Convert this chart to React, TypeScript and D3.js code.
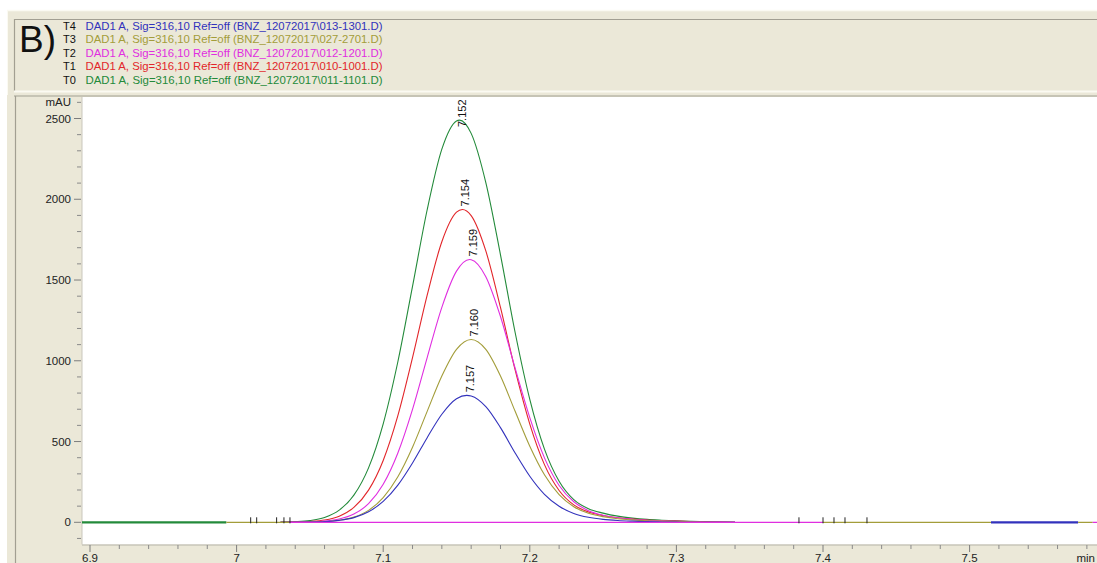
import React from 'react';
import * as d3 from 'd3';

// Shared retention-time grid (min) for the sampled signal values
const times = [
  7.03, 7.04, 7.05, 7.06, 7.07, 7.08, 7.09, 7.1, 7.11, 7.12, 7.13, 7.14, 7.15, 7.16, 7.17, 7.18,
  7.19, 7.2, 7.21, 7.22, 7.23, 7.24, 7.25, 7.26, 7.27, 7.28, 7.29, 7.3, 7.31, 7.32, 7.33, 7.34,
];

// Detector response (mAU) for each injection on the grid above
const signalT4 = [0, 0, 1, 4, 12, 29, 65, 129, 230, 367, 524, 669, 765, 782, 716, 586, 429, 285, 173, 99, 55, 31, 18, 11, 7, 4, 2, 1, 0, 0, 0, 0];
const signalT3 = [0, 0, 1, 4, 13, 32, 74, 153, 282, 465, 687, 906, 1071, 1132, 1071, 906, 687, 471, 294, 171, 96, 56, 35, 22, 15, 10, 7, 5, 3, 1, 0, 0];
const signalT2 = [0, 1, 2, 7, 20, 51, 115, 235, 429, 699, 1020, 1331, 1555, 1626, 1521, 1274, 954, 648, 399, 228, 127, 72, 44, 28, 19, 13, 9, 6, 4, 2, 1, 0];
const signalT1 = [0, 1, 5, 14, 38, 92, 199, 383, 660, 1019, 1406, 1737, 1920, 1899, 1680, 1330, 943, 608, 357, 197, 108, 64, 42, 28, 20, 14, 10, 7, 4, 2, 1, 0];
const signalT0 = [1, 4, 11, 30, 75, 168, 337, 610, 994, 1461, 1935, 2310, 2485, 2408, 2103, 1656, 1175, 761, 453, 254, 140, 84, 57, 38, 26, 18, 13, 9, 6, 4, 2, 0];

// Trace metadata, listed top to bottom as in the header
const traceIds = ['T4', 'T3', 'T2', 'T1', 'T0'];
const traceFiles = ['013-1301', '027-2701', '012-1201', '010-1001', '011-1101'];
const traceColors = ['#3232bc', '#a39d3a', '#e02ee0', '#e2262a', '#238a3a'];
const traceSignals = [signalT4, signalT3, signalT2, signalT1, signalT0];

// Peak apex retention times (min) and heights (mAU)
const apexTimes = [7.157, 7.16, 7.159, 7.154, 7.152];
const apexHeights = [786, 1132, 1627, 1937, 2490];

// Axis ticks
const yMajorTicks = [0, 500, 1000, 1500, 2000, 2500];
const xMajorTicks = [6.9, 7.0, 7.1, 7.2, 7.3, 7.4, 7.5];

// Zero-level baseline pieces (min) and the trace that shows on top there
const baselineFrom = [6.893, 6.993, 7.036, 7.4, 7.5146, 7.574, 7.584];
const baselineTo = [6.993, 7.036, 7.4, 7.5146, 7.574, 7.584, 7.62];
const baselineTrace = [4, 1, 2, 1, 0, 1, 2];
const baselineWidth = [2.2, 1.2, 1.2, 1.2, 2.2, 1.2, 1.2];

// Integration event marks (min)
const eventTimes = [7.0096, 7.0137, 7.0273, 7.0323, 7.0364, 7.3836, 7.4, 7.4075, 7.415, 7.43];

const W = 1097;
const H = 563;
const plotLeft = 82;
const plotTop = 97;
const plotBottom = 544.5;

const fontFamily = "'Liberation Sans', Arial, sans-serif";

export default function App() {
  const x = d3.scaleLinear().domain([6.9, 7.6]).range([90, 90 + 1466 * 0.7]);
  const y = d3.scaleLinear().domain([0, 2500]).range([522.3, 118.5]);

  const line = d3
    .line<[number, number]>()
    .x((d) => x(d[0]))
    .y((d) => y(d[1]))
    .curve(d3.curveMonotoneX);

  const tracePoints = traceSignals.map((sig, i) => {
    const pts: [number, number][] = times.map((t, j) => [t, sig[j]] as [number, number]);
    const at = apexTimes[i];
    const filtered = pts.filter((p) => Math.abs(p[0] - at) > 1e-6);
    filtered.push([at, apexHeights[i]]);
    filtered.sort((a, b) => a[0] - b[0]);
    return filtered;
  });

  const yMinor = d3.range(-100, 2601, 100).filter((v) => v % 500 !== 0);
  const xMinor = d3.range(0, 37).map((k) => +(6.9 + k * 0.02).toFixed(3)).filter(
    (t) => !xMajorTicks.some((m) => Math.abs(m - t) < 1e-6)
  );

  const beige = '#ebe8d8';
  const dark = '#a29f92';
  const light = '#fbfaf2';

  return (
    <svg
      width={W}
      height={H}
      viewBox={`0 0 ${W} ${H}`}
      style={{ position: 'absolute', left: 0, top: 0, display: 'block', background: '#ffffff' }}
      fontFamily={fontFamily}
    >
      <defs>
        <clipPath id="plotClip">
          <rect x={plotLeft} y={plotTop} width={W - plotLeft} height={plotBottom - plotTop} />
        </clipPath>
      </defs>

      {/* header panel */}
      <rect x={7} y={10} width={W - 7} height={86} fill={beige} />
      <line x1={7} x2={W} y1={10.5} y2={10.5} stroke={light} strokeWidth={1.5} />
      <line x1={7.5} x2={7.5} y1={10} y2={H} stroke={light} strokeWidth={1} />
      <line x1={14} x2={W} y1={19.5} y2={19.5} stroke={dark} strokeWidth={1.2} />
      <line x1={14.5} x2={14.5} y1={19} y2={91} stroke={dark} strokeWidth={1.2} />
      <line x1={14} x2={W} y1={91.5} y2={91.5} stroke={light} strokeWidth={2} />
      <text x={19} y={52} fontSize={37} fill="#111">B)</text>
      {traceIds.map((id, i) => {
        const baseY = 29.5 + i * 13.6;
        return (
          <g key={id}>
            <text x={63} y={baseY} fontSize={11} fill="#111">{id}</text>
            <text
              x={85.5}
              y={baseY}
              fontSize={10.4}
              fill={traceColors[i]}
              textLength={297}
              lengthAdjust="spacingAndGlyphs"
            >
              {`DAD1 A, Sig=316,10 Ref=off (BNZ_12072017\\${traceFiles[i]}.D)`}
            </text>
          </g>
        );
      })}

      {/* lower panel */}
      <rect x={7} y={95} width={W - 7} height={H - 95} fill={beige} />
      <line x1={14} x2={W} y1={96} y2={96} stroke={dark} strokeWidth={1.2} />
      <line x1={15.5} x2={15.5} y1={96} y2={H} stroke={dark} strokeWidth={1.2} />
      <rect x={plotLeft} y={plotTop} width={W - plotLeft} height={plotBottom - plotTop} fill="#ffffff" />
      <line x1={plotLeft} x2={plotLeft} y1={plotTop} y2={plotBottom} stroke="#c9c7bd" strokeWidth={1} />
      <line x1={plotLeft} x2={W} y1={plotBottom + 0.5} y2={plotBottom + 0.5} stroke="#b5b3a8" strokeWidth={1} />

      {/* y axis */}
      {yMajorTicks.map((v) => (
        <g key={`ym${v}`}>
          <line x1={74} x2={81} y1={y(v)} y2={y(v)} stroke="#7d7d7d" strokeWidth={1} />
          <text x={71} y={y(v)} dy="0.36em" fontSize={11.5} textAnchor="end" fill="#222">
            {v}
          </text>
        </g>
      ))}
      {yMinor.map((v) => (
        <line key={`yn${v}`} x1={77} x2={81} y1={y(v)} y2={y(v)} stroke="#8a8a8a" strokeWidth={1} />
      ))}
      <text x={71} y={y(2600)} dy="0.36em" fontSize={11.5} textAnchor="end" fill="#222">
        mAU
      </text>

      {/* x axis */}
      {xMajorTicks.map((t) => (
        <g key={`xm${t}`}>
          <line x1={x(t)} x2={x(t)} y1={plotBottom + 0.5} y2={552} stroke="#7d7d7d" strokeWidth={1} />
          <text x={x(t)} y={561.5} fontSize={11.5} textAnchor="middle" fill="#222">
            {d3.format('~g')(t)}
          </text>
        </g>
      ))}
      {xMinor.map((t) => (
        <line key={`xn${t}`} x1={x(t)} x2={x(t)} y1={plotBottom + 0.5} y2={549} stroke="#8a8a8a" strokeWidth={1} />
      ))}
      <text x={1095} y={561.5} fontSize={11.5} textAnchor="end" fill="#222">
        min
      </text>

      {/* chromatogram traces */}
      <g clipPath="url(#plotClip)">
        {tracePoints
          .map((pts, i) => ({ pts, i }))
          .reverse()
          .map(({ pts, i }) => (
            <path key={`tr${i}`} d={line(pts) ?? ''} fill="none" stroke={traceColors[i]} strokeWidth={1.1} />
          ))}
        {baselineFrom.map((t0, k) => (
          <line
            key={`bl${k}`}
            x1={Math.max(plotLeft, x(t0))}
            x2={x(baselineTo[k])}
            y1={y(0)}
            y2={y(0)}
            stroke={traceColors[baselineTrace[k]]}
            strokeWidth={baselineWidth[k]}
          />
        ))}
        {eventTimes.map((t) => (
          <line key={`ev${t}`} x1={x(t)} x2={x(t)} y1={y(0) - 5} y2={y(0) + 1} stroke="#222" strokeWidth={1} />
        ))}
        {apexTimes.map((t, i) => {
          const textLen = 28;
          const bottom = Math.max(y(apexHeights[i]) - 3, plotTop + textLen + 2);
          const px = x(t) + 3;
          return (
            <text
              key={`lb${i}`}
              transform={`translate(${px},${bottom}) rotate(-90)`}
              dy="0.36em"
              fontSize={11}
              fill="#111"
            >
              {d3.format('.3f')(t)}
            </text>
          );
        })}
      </g>
    </svg>
  );
}
